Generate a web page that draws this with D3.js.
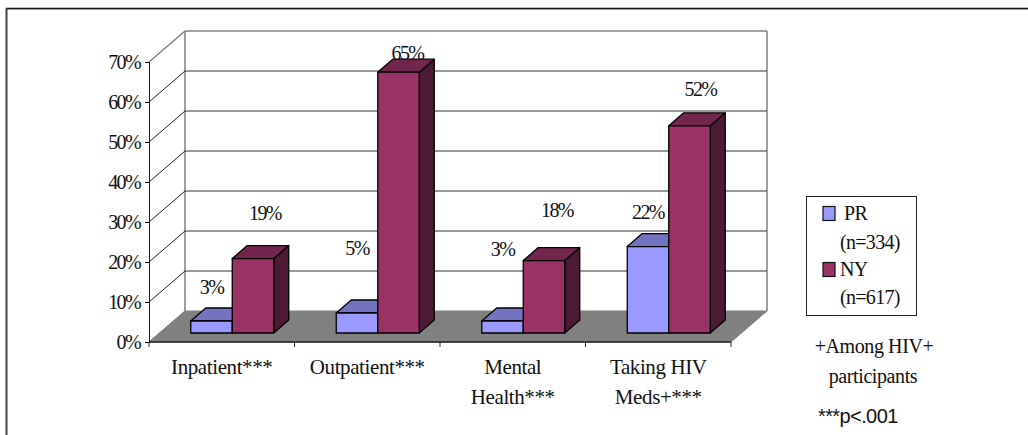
<!DOCTYPE html>
<meta charset="utf-8">
<head>
    <title></title>
    <script src="https://d3js.org/d3.v7.min.js"></script>
</head>

<style>
    html, body{
        margin: 0;
        padding: 0;
        background: #fff;
    }
    svg{
        display: block;
    }
    text{
        font-family: "Liberation Serif", serif;
        fill: #111;
    }
    text.pct{
        font-size: 20px;
        letter-spacing: -1.6px;
    }
    text.cat{
        font-size: 21px;
        letter-spacing: -0.4px;
    }
    text.leg{
        font-size: 20px;
        letter-spacing: -0.7px;
    }
    text.foot{
        font-size: 20px;
        letter-spacing: -0.4px;
    }
    text.note{
        font-family: "Liberation Sans", Arial, sans-serif;
        font-size: 20px;
        letter-spacing: -0.6px;
    }
</style>
<svg width="1028" height="435"></svg>

<script>
    // values
    var categories = ['Inpatient***', 'Outpatient***', 'Mental Health***', 'Taking HIV Meds+***'];
    var categoryLines = [['Inpatient***'], ['Outpatient***'], ['Mental', 'Health***'], ['Taking HIV', 'Meds+***']];
    var seriesNames = ['PR', 'NY'];
    var seriesSizes = ['(n=334)', '(n=617)'];
    var prValues = [3, 5, 3, 21.6];
    var nyValues = [18.6, 65.2, 18.1, 51.8];
    var yTicks = [0, 10, 20, 30, 40, 50, 60, 70];

    var colors = {
        PR: {front: '#9999ff', top: '#7373bf', side: '#4d4d80'},
        NY: {front: '#993366', top: '#73264d', side: '#4d1a33'}
    };

    // data labels were placed by hand in the original, so they get nudged [dx, dy from bar top]
    var labelNudge = {
        PR: [[0, -27], [0, -58], [0, -65], [0, -28]],
        NY: [[12, -39], [9, -12], [13, -44], [11, -30]]
    };

    var svg = d3.select('svg');

    // front plane of the 3d box and how far back the back wall sits
    var x = d3.scaleBand().domain(categories).range([149, 731]);
    var y = d3.scaleLinear().domain([0, 70]).range([342, 62]);
    var depthX = 36, depthY = 31;

    // bars stand in the middle of the floor
    var barBack = 10.5, barUp = 9, barDepthX = 15, barDepthY = 13, barWidth = 41.5;
    var inner = d3.scaleBand().domain(seriesNames)
        .range([(x.bandwidth() - 2 * barWidth) / 2, (x.bandwidth() + 2 * barWidth) / 2]);

    function poly(points, fill, stroke, width){
        return svg.append('polygon')
            .attr('points', points.map(function(p){ return p.join(','); }).join(' '))
            .attr('fill', fill)
            .attr('stroke', stroke)
            .attr('stroke-width', width)
            .attr('stroke-linejoin', 'round');
    }

    function line(x1, y1, x2, y2, stroke, width){
        return svg.append('line')
            .attr('x1', x1).attr('y1', y1).attr('x2', x2).attr('y2', y2)
            .attr('stroke', stroke)
            .attr('stroke-width', width);
    }

    // outer frame, only top and left made it into the picture
    line(6, 8.5, 1028, 8.5, '#111', 1.5);
    line(7, 9.5, 1028, 9.5, '#999', 1);
    line(6.5, 8, 6.5, 435, '#444', 2);

    var xLeft = x.range()[0], xRight = x.range()[1];

    // walls
    poly([[xLeft, y(0)], [xLeft + depthX, y(0) - depthY], [xRight + depthX, y(0) - depthY], [xRight, y(0)]], '#808080', '#808080', 1);
    line(xLeft, y(70), xLeft + depthX, y(70) - depthY, '#808080', 1.5);
    line(xLeft + depthX, y(70) - depthY, xRight + depthX, y(70) - depthY, '#808080', 1.5);
    line(xLeft + depthX, y(70) - depthY, xLeft + depthX, y(0) - depthY, '#808080', 1.5);
    line(xRight + depthX, y(70) - depthY, xRight + depthX, y(0) - depthY, '#808080', 1.5);

    yTicks.slice(1, -1).forEach(function(t){
        line(xLeft, y(t), xLeft + depthX, y(t) - depthY, '#222', 1);
        line(xLeft + depthX, y(t) - depthY, xRight + depthX, y(t) - depthY, '#333', 1);
    });
    line(xLeft, y(0), xLeft + depthX, y(0) - depthY, '#808080', 1);

    // y axis
    var yAxis = svg.append('g')
        .attr('transform', 'translate(' + xLeft + ',0)')
        .call(d3.axisLeft(y).tickValues(yTicks).tickSize(4).tickPadding(5)
            .tickFormat(function(d){ return d + '%'; }));
    yAxis.selectAll('text')
        .attr('class', 'pct')
        .style('font-family', '"Liberation Serif", serif')
        .style('font-size', '20px')
        .attr('fill', '#111');
    yAxis.selectAll('line, path').attr('stroke', '#111');

    // x axis, ticks sit on the band edges
    svg.append('path')
        .attr('d', 'M' + xLeft + ',' + y(0) + 'H' + xRight)
        .attr('stroke', '#222')
        .attr('stroke-width', 1.5);
    categories.concat([null]).forEach(function(c){
        var tx = c === null ? xRight : x(c);
        line(tx, y(0), tx, y(0) + 5, '#222', 1);
    });

    // bars
    function drawBar(cat, name, value){
        var c = colors[name];
        var x0 = x(cat) + inner(name) + barBack;
        var x1 = x0 + barWidth;
        var y0 = y(0) - barUp;
        var y1 = y(value) - barUp;
        poly([[x1, y0], [x1 + barDepthX, y0 - barDepthY], [x1 + barDepthX, y1 - barDepthY], [x1, y1]], c.side, '#000', 1.3);
        poly([[x0, y1], [x0 + barDepthX, y1 - barDepthY], [x1 + barDepthX, y1 - barDepthY], [x1, y1]], c.top, '#000', 1.3);
        poly([[x0, y0], [x1, y0], [x1, y1], [x0, y1]], c.front, '#000', 1.3);
    }

    categories.forEach(function(cat, i){
        drawBar(cat, 'PR', prValues[i]);
        drawBar(cat, 'NY', nyValues[i]);
    });

    // data labels
    function drawLabels(name, values){
        values.forEach(function(v, i){
            var nudge = labelNudge[name][i];
            svg.append('text')
                .attr('class', 'pct')
                .attr('x', x(categories[i]) + inner(name) + barBack + barWidth / 2 + nudge[0])
                .attr('y', y(v) - barUp + nudge[1])
                .attr('text-anchor', 'middle')
                .text(Math.round(v) + '%');
        });
    }
    drawLabels('PR', prValues);
    drawLabels('NY', nyValues);

    // category labels
    categoryLines.forEach(function(lines, i){
        lines.forEach(function(l, j){
            svg.append('text')
                .attr('class', 'cat')
                .attr('x', x(categories[i]) + x.bandwidth() / 2)
                .attr('y', 374 + j * 29.5)
                .attr('text-anchor', 'middle')
                .text(l);
        });
    });

    // legend
    svg.append('rect')
        .attr('x', 806.5).attr('y', 196.5).attr('width', 110).attr('height', 119)
        .attr('fill', '#fff').attr('stroke', '#222').attr('stroke-width', 1);

    seriesNames.forEach(function(name, i){
        var top = 206 + i * 56;
        svg.append('rect')
            .attr('x', 823).attr('y', top + 0.5).attr('width', 12).attr('height', 14)
            .attr('fill', colors[name].front).attr('stroke', '#111').attr('stroke-width', 1.2);
        svg.append('text').attr('class', 'leg').attr('x', i == 0 ? 844 : 840).attr('y', top + 14).text(name);
        svg.append('text').attr('class', 'leg').attr('x', 840).attr('y', top + 43 - i).text(seriesSizes[i]);
    });

    // notes
    svg.append('text').attr('class', 'foot').attr('x', 874).attr('y', 353).attr('text-anchor', 'middle').text('+Among HIV+');
    svg.append('text').attr('class', 'foot').attr('x', 873).attr('y', 383).attr('text-anchor', 'middle').text('participants');
    svg.append('text').attr('class', 'note').attr('x', 818).attr('y', 423).text('***p<.001');
</script>
